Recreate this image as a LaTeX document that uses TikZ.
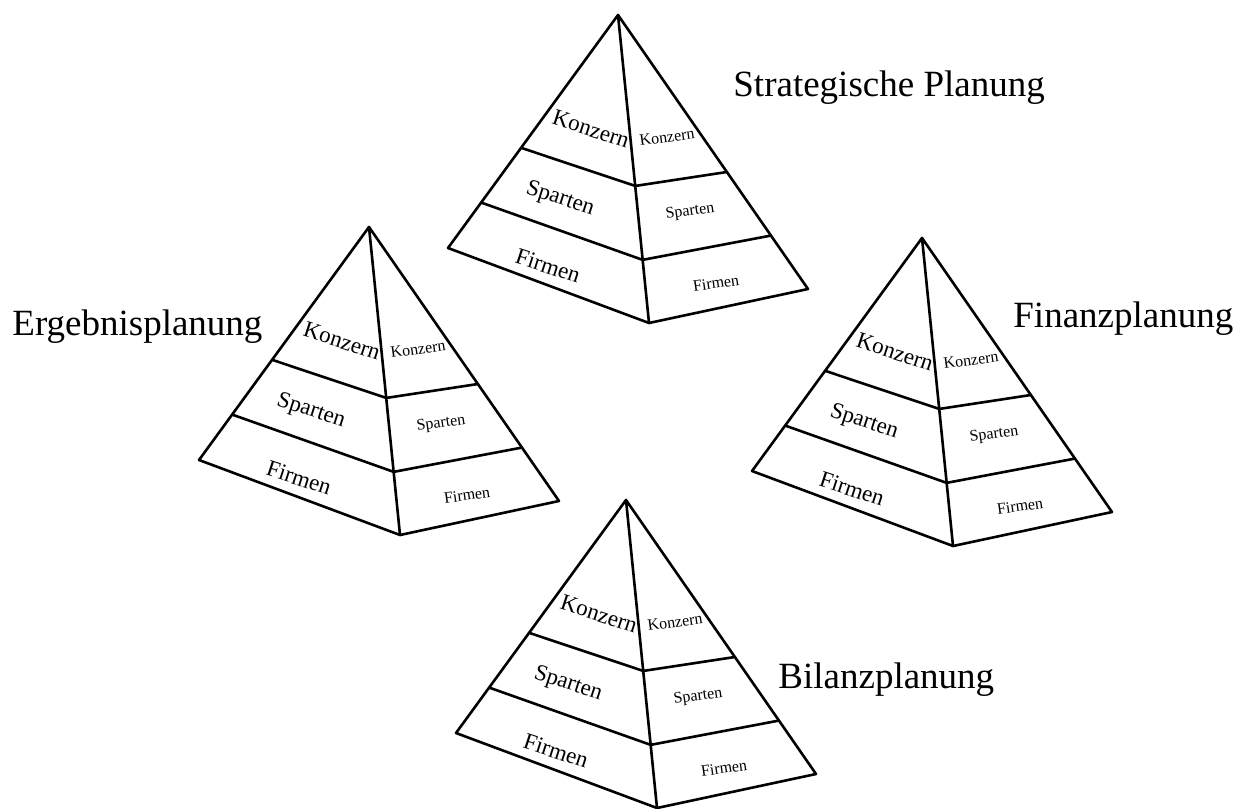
\documentclass[tikz,border=0pt]{standalone}
\usepackage{fontspec}
\setmainfont{Liberation Serif}
\usetikzlibrary{calc}

\tikzset{
  edge/.style={line width=1.3pt, line join=round, line cap=round},
  title/.style={font=\fontsize{18.5}{20}\selectfont, anchor=base west, inner sep=0pt},
  leftlbl/.style={font=\fontsize{11.5}{13}\selectfont, rotate=-18, inner sep=0pt},
  rightlbl/.style={font=\fontsize{8}{9}\selectfont, rotate=8, inner sep=0pt},
  pics/pyramid/.style={code={
    % apex, base corners (left, front, right)
    \coordinate (-A) at (0,0);
    \coordinate (-L) at (-170,233);
    \coordinate (-F) at (31,308);
    \coordinate (-R) at (190,274);
    % band boundaries on the three edges
    \coordinate (-l1) at ($(-A)!0.57!(-L)$);
    \coordinate (-f1) at ($(-A)!0.555!(-F)$);
    \coordinate (-r1) at ($(-A)!0.573!(-R)$);
    \coordinate (-l2) at ($(-A)!0.805!(-L)$);
    \coordinate (-f2) at ($(-A)!0.795!(-F)$);
    \coordinate (-r2) at ($(-A)!0.805!(-R)$);
    \draw[edge] (-L) -- (-A) -- (-R) -- (-F) -- cycle;
    \draw[edge] (-A) -- (-F);
    \draw[edge] (-l1) -- (-f1) -- (-r1);
    \draw[edge] (-l2) -- (-f2) -- (-r2);
    % level labels, left and right face
    \node[leftlbl]  (-k1) at (-27,114) {Konzern};
    \node[rightlbl] (-k2) at (49,122)  {Konzern};
    \node[leftlbl]  (-s1) at (-58,184) {Sparten};
    \node[rightlbl] (-s2) at (72,197)  {Sparten};
    \node[leftlbl]  (-f1l) at (-70,251) {Firmen};
    \node[rightlbl] (-f2l) at (98,268)  {Firmen};
  }}
}

\begin{document}
\begin{tikzpicture}[x=0.5pt, y=-0.5pt]
  \useasboundingbox (0,0) rectangle (1240,808);

  \pic (strat) at (618,15)  {pyramid};
  \pic (erg)   at (369,227) {pyramid};
  \pic (fin)   at (922,238) {pyramid};
  \pic (bil)   at (626,500) {pyramid};

  \node[title] (tstrat) at (733,97)  {Strategische Planung};
  \node[title] (terg)   at (12,335)  {Ergebnisplanung};
  \node[title] (tfin)   at (1013,327) {Finanzplanung};
  \node[title] (tbil)   at (778,688) {Bilanzplanung};
\end{tikzpicture}
\end{document}
